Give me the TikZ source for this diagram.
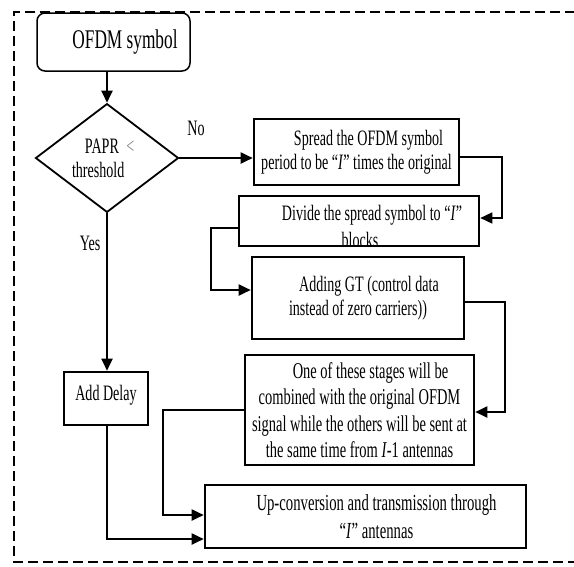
\documentclass[tikz,border=0pt]{standalone}
\usepackage{fontspec}
\setmainfont{Liberation Serif}
\newfontfamily\dfont[FakeStretch=0.64,Ligatures=TeX]{Liberation Serif}
\usetikzlibrary{shapes.geometric,arrows.meta}

\begin{document}
\begin{tikzpicture}[x=1pt,y=-1pt,
  txt/.style={font=\dfont\fontsize{22}{24}\selectfont},
  box/.style={draw, line width=2.6pt, inner sep=0pt, align=center, txt},
  decision/.style={draw, diamond, line width=1.8pt, inner sep=0pt, txt},
  lbl/.style={txt, inner sep=0pt},
  arr/.style={line width=1.9pt, -{Triangle[length=12pt,width=11pt]}},
  frame/.style={line width=2.4pt, dash pattern=on 10pt off 5pt}]
\useasboundingbox (0,0) rectangle (574,566);

% dashed enclosure (open on the right)
\draw[frame] (590,12) -- (14,12) -- (14,562) -- (590,562);

% blocks
\node[box, rounded corners=8pt, line width=1.5pt, minimum width=153pt, minimum height=58pt,
      font=\dfont\fontsize{27}{29}\selectfont] (ofdm) at (113.5,42) {\hspace*{23pt}OFDM symbol};

\node[decision, minimum width=143pt, minimum height=105pt, text width=70pt, align=left]
  (dia) at (107,158) {\hspace*{13pt}PAPR \textcolor{gray}{<}\\threshold};

\node[box, minimum width=205pt, minimum height=66pt] (spread) at (356.5,152)
  {\hspace*{24pt}Spread the OFDM symbol\\period to be “\textit{I}” times the original};

\node[box, minimum width=240pt, minimum height=50pt,
      path picture={\node[lbl, align=center] at ([xshift=1pt,yshift=-5.5pt]path picture bounding box.center)
        {\hspace*{24pt}Divide the spread symbol to “\textit{I}”\\[3pt]blocks};}]
  (divide) at (359,221) {};

\node[box, minimum width=212pt, minimum height=82pt] (gt) at (358,298)
  {\hspace*{22pt}Adding GT (control data\\instead of zero carriers))};

\node[box, minimum width=229pt, minimum height=110pt, font=\dfont\fontsize{22.6}{26.5}\selectfont]
  (one) at (359.5,410)
  {\hspace*{22pt}One of these stages will be\\combined with the original OFDM\\signal while the others will be sent at\\the same time from \textit{I}-1 antennas};

\node[box, minimum width=321pt, minimum height=63pt, font=\dfont\fontsize{23}{28}\selectfont]
  (up) at (365.5,516.5)
  {\hspace*{22pt}Up-conversion and transmission through\\\hspace*{22pt}“\textit{I}” antennas};

\node[box, minimum width=84pt, minimum height=53pt, text depth=12pt] (delay) at (106,398.5) {Add Delay};

% branch labels
\node[lbl] (no) at (196,128) {No};
\node[lbl] (yes) at (90,243) {Yes};

% connectors
\draw[arr] (ofdm.south -| dia.north) -- (dia.north);
\draw[arr] (dia.east) -- (dia.east -| spread.west);
\draw[arr] (dia.south) -- (dia.south |- delay.north);
\draw[arr, line width=1.5pt] (spread.east |- 0,157) -- (502,157) |- (divide.east |- 0,218);
\draw[arr] (divide.west |- 0,228) -- (211,228) |- (gt.west |- 0,290);
\draw[arr] (gt.east |- 0,302) -- (505,302) |- (one.east |- 0,412);
\draw[arr] (one.west) -- (163,410) |- (up.west |- 0,515);
\draw[arr] (dia.south |- delay.south) |- (up.west |- 0,539);
\end{tikzpicture}
\end{document}
